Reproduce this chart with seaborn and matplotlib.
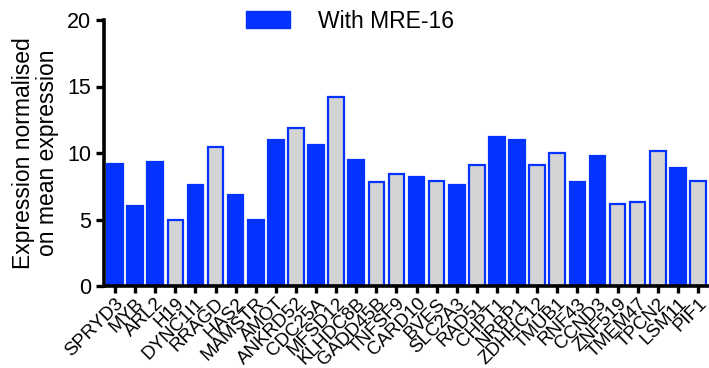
import matplotlib
matplotlib.use("Agg")
import matplotlib.pyplot as plt
import seaborn as sns
import pandas as pd
from matplotlib.patches import Patch

genes = ["SPRYD3", "MYB", "ARL2", "H19", "DYNC1I1", "RRAGD", "HAS2", "MAMSTR",
         "AMOT", "ANKRD52", "CDC25A", "MFSD12", "KLHDC8B", "GADD45B", "TNFSF9",
         "CARD10", "BVES", "SLC2A3", "RAD51", "CHPT1", "NRBP1", "ZDHHC12",
         "TMUB1", "RNF43", "CCND3", "ZNF519", "TMEM47", "TPCN2", "LSM11", "PIF1"]
values = [9.2, 6.05, 9.3, 4.97, 7.57, 10.47, 6.86, 4.95,
          10.95, 11.9, 10.6, 14.2, 9.45, 7.84, 8.44,
          8.2, 7.9, 7.6, 9.07, 11.2, 10.95, 9.12,
          10.0, 7.8, 9.8, 6.19, 6.34, 10.15, 8.85, 7.87]
groups = ["With MRE-16", "With MRE-16", "With MRE-16", "Without MRE-16", "With MRE-16",
          "Without MRE-16", "With MRE-16", "With MRE-16", "With MRE-16", "Without MRE-16",
          "With MRE-16", "Without MRE-16", "With MRE-16", "Without MRE-16", "Without MRE-16",
          "With MRE-16", "Without MRE-16", "With MRE-16", "Without MRE-16", "With MRE-16",
          "With MRE-16", "Without MRE-16", "Without MRE-16", "With MRE-16", "With MRE-16",
          "Without MRE-16", "Without MRE-16", "Without MRE-16", "With MRE-16", "Without MRE-16"]

BLUE = "#0433FF"
GRAY = "#D4D4D4"

sns.set_style("ticks")
plt.rcParams["font.family"] = ["Liberation Sans", "DejaVu Sans"]
plt.rcParams["text.color"] = "black"
plt.rcParams["axes.labelcolor"] = "black"
plt.rcParams["xtick.color"] = "black"
plt.rcParams["ytick.color"] = "black"
plt.rcParams["axes.edgecolor"] = "black"

df = pd.DataFrame({"gene": genes, "value": values, "group": groups})

fig = plt.figure(figsize=(7.09, 3.68), dpi=100)
ax = fig.add_axes([104 / 709, 1 - 286 / 368, (709 - 104) / 709, (286 - 20) / 368])

sns.barplot(data=df, x="gene", y="value", hue="group", order=genes,
            hue_order=["With MRE-16", "Without MRE-16"],
            palette={"With MRE-16": BLUE, "Without MRE-16": GRAY},
            dodge=False, width=0.78, legend=False, ax=ax, saturation=1)

for p in ax.patches:
    if p.get_height() > 0:
        p.set_edgecolor(BLUE)
        p.set_linewidth(1.6)

ax.set_ylim(0, 20)
ax.set_xlim(-0.55, len(genes) - 0.45)
ax.set_yticks([0, 5, 10, 15, 20])
ax.set_xlabel("")
ax.set_ylabel("Expression normalised\non mean expression", fontsize=16.5,
              linespacing=1.05, labelpad=6)
ax.tick_params(axis="y", labelsize=15.5, width=2.4, length=6, direction="out", pad=3)
ax.tick_params(axis="x", labelsize=13.5, width=2.4, length=5, direction="out", pad=1.5)
plt.setp(ax.get_xticklabels(), rotation=45, ha="right", rotation_mode="anchor")
for s in ["left", "bottom"]:
    ax.spines[s].set_linewidth(2.6)
sns.despine(ax=ax)

handles = [Patch(facecolor=BLUE, edgecolor=BLUE, label="With MRE-16")]
fig.legend(handles=handles, loc="center", bbox_to_anchor=(350 / 709, 1 - 21 / 368),
           frameon=False, fontsize=16.5, handlelength=1.9, handleheight=0.7,
           handletextpad=1.2)

fig.savefig("out.png", dpi=100)
